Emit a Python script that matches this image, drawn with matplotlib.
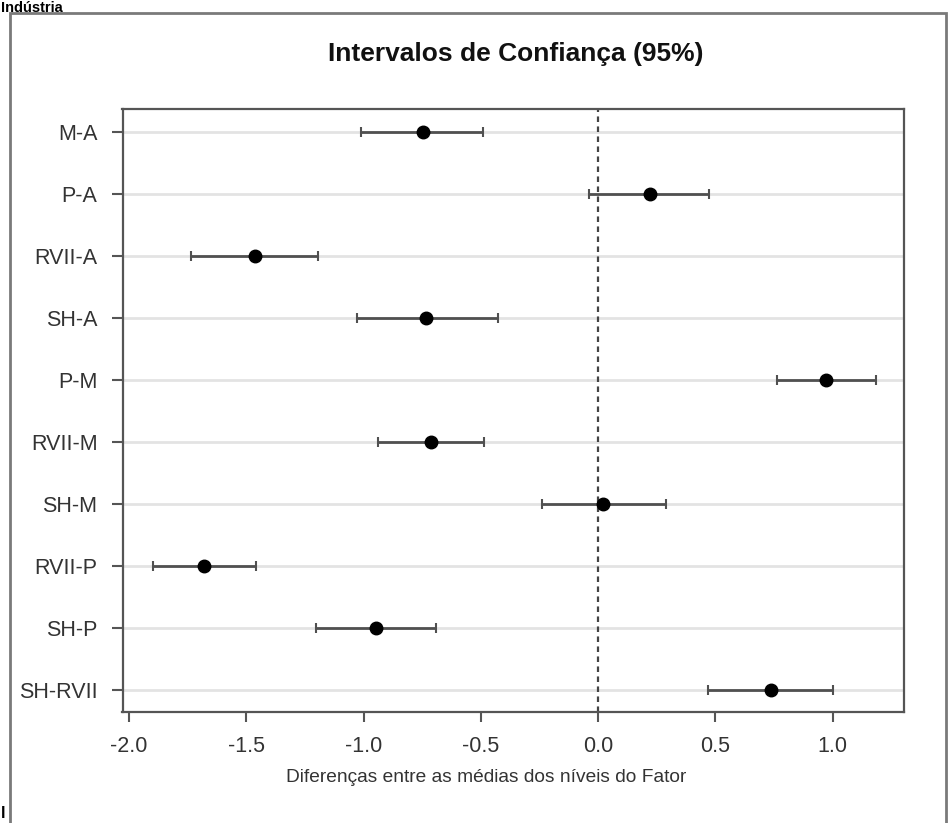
#
# Tukey-style confidence intervals plot
#

import matplotlib
matplotlib.use("Agg")
import matplotlib.pyplot as plt
from matplotlib.patches import Rectangle
import numpy as np

# comparisons, from top to bottom
comparisons = ["M-A", "P-A", "RVII-A", "SH-A", "P-M",
               "RVII-M", "SH-M", "RVII-P", "SH-P", "SH-RVII"]

# difference between means and the 95% interval bounds
diff = [-0.748, 0.222, -1.465, -0.733, 0.972,
        -0.713, 0.020, -1.680, -0.946, 0.735]
lower = [-1.013, -0.037, -1.735, -1.028, 0.761,
         -0.937, -0.239, -1.900, -1.202, 0.467]
upper = [-0.489, 0.474, -1.196, -0.428, 1.185,
         -0.485, 0.289, -1.459, -0.693, 1.002]

x_ticks = [-2.0, -1.5, -1.0, -0.5, 0.0, 0.5, 1.0]
x_tick_labels = ["-2.0", "-1.5", "-1.0", "-0.5", "0.0", "0.5", "1.0"]

plt.rcParams['font.family'] = ['Liberation Sans', 'DejaVu Sans']

W, H = 950, 823
fig = plt.figure(figsize=(W / 100, H / 100), dpi=100)
fig.patch.set_facecolor("white")

# outer frame around the picture (it is cut at the bottom)
frame = Rectangle((10 / W, -0.02), (946 - 10) / W, 1 - 13 / H + 0.02,
                  transform=fig.transFigure, fill=False,
                  edgecolor="#7a7a7a", linewidth=2, clip_on=False)
fig.patches.append(frame)

# leftover text of the document around the figure
fig.text(1 / W, 1 - 1 / H, "Indústria", fontsize=10.5, fontweight="bold",
         ha="left", va="top", color="black")
fig.text(1 / W, 1 - 821 / H, "l", fontsize=12, fontweight="bold",
         ha="left", va="bottom", color="black")

ax = fig.add_axes([122.5 / W, 1 - 711.5 / H, (904 - 122.5) / W, (711.5 - 109) / H])

y = np.arange(len(comparisons))
diff = np.array(diff)
lower = np.array(lower)
upper = np.array(upper)

# light horizontal guide lines for every comparison
for yi in y:
    ax.axhline(yi, color="#e3e3e3", linewidth=2, zorder=0)

# reference line at zero
ax.axvline(0.0, color="#444444", linewidth=1.6, linestyle=(0, (2.5, 2)), zorder=1)

ax.errorbar(diff, y, xerr=[diff - lower, upper - diff], fmt="o",
            color="black", markersize=9, ecolor="#505050", elinewidth=2,
            capsize=3.6, capthick=1.5, zorder=3)

ax.set_xlim(-2.028, 1.304)
ax.set_ylim(len(comparisons) - 1 + 0.355, -0.37)

ax.set_xticks(x_ticks)
ax.set_xticklabels(x_tick_labels)
ax.set_yticks(y)
ax.set_yticklabels(comparisons)

ax.tick_params(axis="x", direction="out", length=7, width=1.5, color="#555555",
               labelsize=15.5, labelcolor="#333333", pad=11)
ax.tick_params(axis="y", direction="out", length=8, width=1.5, color="#555555",
               labelsize=15.5, labelcolor="#333333", pad=10)

for side in ["left", "right", "top", "bottom"]:
    ax.spines[side].set_color("#555555")
    ax.spines[side].set_linewidth(1.6)

fig.text(516 / W, 1 - 54 / H, "Intervalos de Confiança (95%)", fontsize=19,
         fontweight="bold", ha="center", va="center", color="#111111")
fig.text(486 / W, 1 - 778 / H, "Diferenças entre as médias dos níveis do Fator",
         fontsize=13.8, ha="center", va="center", color="#333333")

plt.savefig("out.png", dpi=100, facecolor="white")
